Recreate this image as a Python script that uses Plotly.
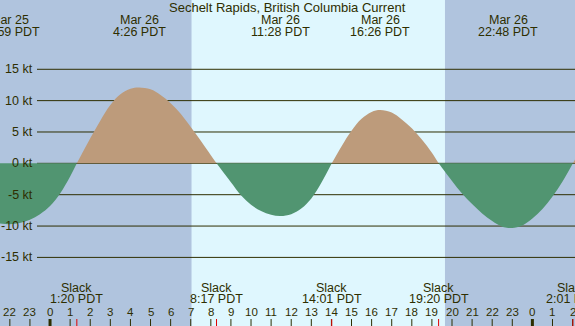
import plotly.graph_objects as go

# ---------------- data ----------------
# hours relative to midnight starting Mar 26 (PDT); current speed in knots
curve_hours = [-2.49, -2.0, -1.5, -1.0, -0.5, 0.0, 0.5, 1.0, 1.333,
               1.5, 2.0, 2.5, 3.0, 3.5, 4.0, 4.43, 5.0, 5.5, 6.0, 6.5, 7.0, 7.5, 8.0, 8.283,
               8.5, 9.0, 9.5, 10.0, 10.5, 11.0, 11.47, 12.0, 12.5, 13.0, 13.5, 14.017,
               14.5, 15.0, 15.5, 16.0, 16.43, 17.0, 17.5, 18.0, 18.5, 19.0, 19.333,
               19.5, 20.0, 20.5, 21.0, 21.5, 22.0, 22.5, 22.8, 23.0, 23.5, 24.0, 24.5, 25.0, 25.5,
               26.017, 26.12]
curve_kt = [-9.6, -9.7, -9.5, -9.0, -8.1, -6.8, -4.8, -2.1, 0,
            1.0, 4.0, 6.8, 9.3, 11.0, 11.9, 12.1, 11.8, 10.9, 9.6, 7.9, 5.8, 3.6, 1.3, 0,
            -0.9, -3.0, -5.1, -6.6, -7.6, -8.2, -8.4, -8.1, -7.2, -5.6, -3.1, 0,
            2.7, 5.2, 7.1, 8.2, 8.5, 8.1, 7.0, 5.6, 3.8, 1.7, 0,
            -0.7, -2.8, -4.8, -6.5, -8.0, -9.2, -10.1, -10.3, -10.3, -9.9, -8.8, -7.3, -5.3, -2.9,
            0, 0.6]

max_dates = ["Mar 25", "Mar 26", "Mar 26", "Mar 26", "Mar 26"]
max_times = ["21:59", "4:26", "11:28", "16:26", "22:48"]
max_dayoff = [-1, 0, 0, 0, 0]

slack_times = ["1:20", "8:17", "14:01", "19:20", "2:01"]
slack_dayoff = [0, 0, 0, 0, 1]

hour_ticks = list(range(-2, 27))
kt_ticks = [15, 10, 5, 0, -5, -10, -15]

sunrise_h = 7.04
sunset_h = 19.65

title = "Sechelt Rapids, British Columbia Current"

# ---------------- styles ----------------
W, H = 575, 326
NIGHT = "#B0C4DE"
DAY = "#DFF7FE"
FLOOD = "#BD9B7B"
EBB = "#519571"
INK = "#2E2E00"
FONT = "Liberation Sans"
FS = 12.5


def to_h(t, off):
    hh, mm = t.split(":")
    return off * 24 + int(hh) + int(mm) / 60.0


def py(px):
    return 1 - px / H


fig = go.Figure()

# split curve into arches at zero crossings
segs = []
cur = [(curve_hours[0], curve_kt[0])]
for h, v in zip(curve_hours[1:], curve_kt[1:]):
    cur.append((h, v))
    if v == 0:
        segs.append(cur)
        cur = [(h, v)]
if len(cur) > 1:
    segs.append(cur)

for s in segs:
    xs = [p[0] for p in s]
    ys = [p[1] for p in s]
    pos = sum(ys) > 0
    fig.add_trace(go.Scatter(
        x=xs, y=ys, mode="lines",
        line=dict(width=0, shape="spline", smoothing=1.0, color=FLOOD if pos else EBB),
        fill="tozeroy", fillcolor=FLOOD if pos else EBB, hoverinfo="skip", showlegend=False))

shapes = []
# daylight band
shapes.append(dict(type="rect", xref="x", yref="paper", x0=sunrise_h, x1=sunset_h, y0=0, y1=1,
                   fillcolor=DAY, line=dict(width=0), layer="below"))
# grid lines
for k in kt_ticks:
    shapes.append(dict(type="line", xref="paper", yref="y", x0=37 / W, x1=1, y0=k, y1=k,
                       line=dict(color=INK, width=1), layer="below"))
# hour ticks
tick_len = 7 / H
for h in hour_ticks:
    hod = h % 24
    shapes.append(dict(type="line", xref="x", yref="paper", x0=h, x1=h, y0=0, y1=tick_len,
                       line=dict(color=INK, width=3 if hod == 0 else 1), layer="above"))
# slack ticks
for t, o in zip(slack_times, slack_dayoff):
    hh = to_h(t, o)
    shapes.append(dict(type="line", xref="x", yref="paper", x0=hh, x1=hh, y0=0, y1=tick_len,
                       line=dict(color="#E00000", width=1), layer="above"))

ann = []
txt = dict(family=FONT, size=FS, color=INK)
ann.append(dict(text=title, x=0.5, xref="paper", y=py(7.5), yref="paper", showarrow=False,
                xanchor="center", yanchor="middle", font=dict(family=FONT, size=13, color=INK)))
for d, t, o in zip(max_dates, max_times, max_dayoff):
    hh = to_h(t, o)
    ann.append(dict(text=d, x=hh, xref="x", y=py(20), yref="paper", showarrow=False,
                    xanchor="center", yanchor="middle", font=txt))
    ann.append(dict(text=t + " PDT", x=hh, xref="x", y=py(32), yref="paper", showarrow=False,
                    xanchor="center", yanchor="middle", font=txt))
for t, o in zip(slack_times, slack_dayoff):
    hh = to_h(t, o)
    ann.append(dict(text="Slack", x=hh, xref="x", y=py(288), yref="paper", showarrow=False,
                    xanchor="center", yanchor="middle", font=txt))
    ann.append(dict(text=t + " PDT", x=hh, xref="x", y=py(299), yref="paper", showarrow=False,
                    xanchor="center", yanchor="middle", font=txt))
for h in hour_ticks:
    ann.append(dict(text=str(h % 24), x=h, xref="x", y=py(312), yref="paper", showarrow=False,
                    xanchor="center", yanchor="middle", font=dict(family=FONT, size=11.5, color=INK)))
for k in kt_ticks:
    ann.append(dict(text=f"{k} kt", x=35 / W, xref="paper", y=k, yref="y", showarrow=False,
                    xanchor="right", yanchor="middle", font=txt))

fig.update_layout(
    width=W, height=H, margin=dict(l=0, r=0, t=0, b=0),
    paper_bgcolor=NIGHT, plot_bgcolor=NIGHT,
    xaxis=dict(range=[-2.49, 26.12], visible=False, fixedrange=True),
    yaxis=dict(range=[-25.94, 26.05], visible=False, fixedrange=True),
    shapes=shapes, annotations=ann, showlegend=False,
)

fig.write_html("out.html", config={"displayModeBar": False},
               post_script="document.body.style.margin='0';document.body.style.overflow='hidden';")
